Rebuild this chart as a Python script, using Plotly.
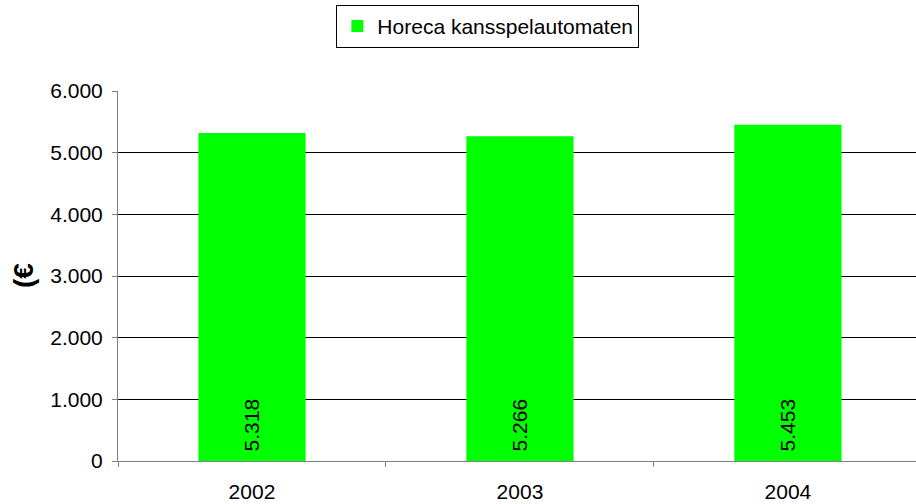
import plotly.graph_objects as go

categories = ["2002", "2003", "2004"]
values = [5318, 5266, 5453]
series_name = "Horeca kansspelautomaten"
y_ticks = [0, 1000, 2000, 3000, 4000, 5000, 6000]

x_pos = list(range(len(categories)))
FONT = "Liberation Sans, Arial, Helvetica"

fig = go.Figure()
fig.add_trace(go.Bar(
    x=x_pos, y=values, name=series_name,
    marker=dict(color="#00FF00", line=dict(width=0)),
    width=0.40,
    showlegend=True,
    hoverinfo="skip",
))

for xi, v in zip(x_pos, values):
    fig.add_annotation(
        x=xi, y=0, xref="x", yref="y",
        text=f"{v:,}".replace(",", "."),
        textangle=-90, showarrow=False,
        xanchor="center", yanchor="bottom", yshift=8,
        font=dict(family=FONT, size=21, color="black"),
    )

fig.update_layout(
    width=916, height=504,
    margin=dict(l=118, r=0, t=91, b=43, autoexpand=False),
    paper_bgcolor="white", plot_bgcolor="white",
    separators=",.",
    font=dict(family=FONT, size=21, color="black"),
    showlegend=True,
    legend=dict(
        x=0.4635, xanchor="center", y=1.233, yanchor="top",
        orientation="h", bordercolor="black", borderwidth=1,
        font=dict(size=21), itemwidth=30, tracegroupgap=0,
    ),
)
fig.update_xaxes(
    range=[-0.5, 2.478], automargin=False,
    tickvals=x_pos, ticktext=categories,
    ticks="outside", ticklen=12, tickcolor="rgba(0,0,0,0)",
    showline=True, linecolor="#808080", linewidth=1,
    showgrid=False, zeroline=False,
    minor=dict(tickvals=[-0.5, 0.5, 1.5], ticks="outside", ticklen=5, tickcolor="#808080", showgrid=False),
)
fig.update_yaxes(
    range=[0, 6000], tickvals=y_ticks, tickformat=",d", automargin=False,
    ticks="outside", ticklen=5, tickcolor="#808080", ticklabelstandoff=5,
    showline=True, linecolor="#808080", linewidth=1,
    showgrid=True, gridcolor="#000000", gridwidth=1,
    zeroline=False,
)
fig.add_annotation(
    text="<b>(€</b>", textangle=-90, xref="paper", yref="y",
    x=-0.119, y=3000, showarrow=False, xanchor="center", yanchor="middle",
    font=dict(family=FONT, size=28, color="black"),
)
fig.write_html("out.html", config={"displayModeBar": False},
               post_script="document.body.style.margin='0';")
